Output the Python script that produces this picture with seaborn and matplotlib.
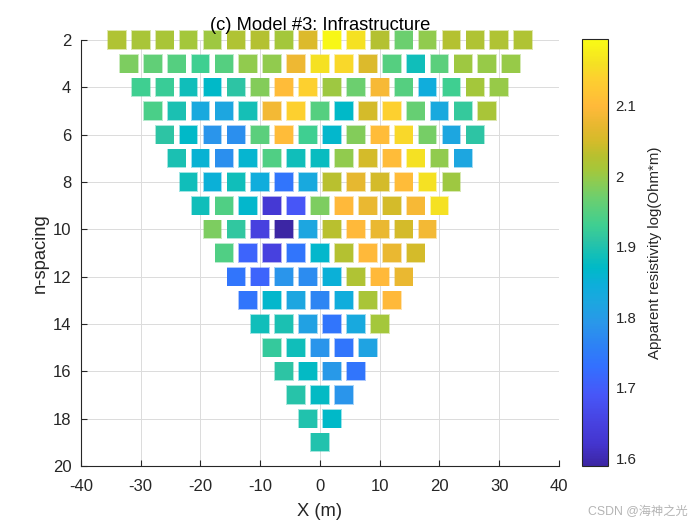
"""Pseudo-section de résistivité apparente, modèle #3"""
import numpy as np
import pandas as pd
import matplotlib
matplotlib.use("Agg")
import matplotlib.pyplot as plt
from matplotlib.cm import ScalarMappable
from matplotlib.colors import LinearSegmentedColormap, Normalize
import seaborn as sns

n_spacing = [2, 3, 4, 5, 6, 7, 8, 9, 10, 11, 12, 13, 14, 15, 16, 17, 18, 19]

# Valeurs, une liste par n-spacing (de gauche a droite)
n02 = [2.02, 2.015, 2.015, 2.01, 2.005, 2.02, 2.025, 2.01, 2.06, 2.19, 2.16, 2.025, 1.97, 1.995, 2.025, 2.02, 2.02, 2.02]
n03 = [1.98, 1.96, 1.95, 1.93, 1.95, 1.995, 1.995, 2.08, 2.16, 2.15, 2.06, 1.95, 1.885, 1.955, 2.005, 2.0, 2.0]
n04 = [1.93, 1.925, 1.885, 1.87, 1.91, 1.985, 2.105, 2.14, 2.005, 1.97, 2.09, 1.95, 1.84, 1.93, 2.01, 2.0]
n05 = [1.94, 1.895, 1.83, 1.82, 1.89, 2.085, 2.14, 1.95, 1.87, 2.05, 2.14, 1.965, 1.83, 1.92, 2.015]
n06 = [1.91, 1.87, 1.79, 1.78, 1.955, 2.105, 1.93, 1.865, 1.985, 2.105, 2.15, 1.975, 1.82, 1.91]
n07 = [1.895, 1.855, 1.78, 1.86, 1.945, 1.885, 1.88, 1.995, 2.05, 2.105, 2.16, 1.995, 1.82]
n08 = [1.885, 1.85, 1.885, 1.84, 1.74, 1.83, 2.03, 2.07, 2.05, 2.105, 2.16, 2.005]
n09 = [1.885, 1.945, 1.865, 1.63, 1.69, 1.98, 2.10, 2.075, 2.05, 2.09, 2.16]
n10 = [1.98, 1.915, 1.65, 1.59, 1.82, 2.03, 2.10, 2.075, 2.05, 2.085]
n11 = [1.945, 1.71, 1.65, 1.74, 1.865, 2.025, 2.10, 2.075, 2.05]
n12 = [1.74, 1.71, 1.79, 1.775, 1.85, 2.02, 2.10, 2.075]
n13 = [1.74, 1.865, 1.82, 1.765, 1.84, 2.015, 2.10]
n14 = [1.885, 1.895, 1.81, 1.74, 1.83, 2.01]
n15 = [1.92, 1.885, 1.79, 1.74, 1.815]
n16 = [1.91, 1.875, 1.795, 1.74]
n17 = [1.905, 1.875, 1.79]
n18 = [1.90, 1.87]
n19 = [1.90]
rows = [n02, n03, n04, n05, n06, n07, n08, n09, n10, n11, n12, n13, n14, n15, n16, n17, n18, n19]

x_ticks = [-40, -30, -20, -10, 0, 10, 20, 30, 40]
x_labels = ["-40", "-30", "-20", "-10", "0", "10", "20", "30", "40"]
y_ticks = [2, 4, 6, 8, 10, 12, 14, 16, 18, 20]
cbar_ticks = [1.6, 1.7, 1.8, 1.9, 2.0, 2.1]
cbar_labels = ["1.6", "1.7", "1.8", "1.9", "2", "2.1"]
vmin, vmax = 1.589, 2.195

# Colormap type parula, couleur relevee pour chaque valeur
cmap_values = [1.589, 1.62, 1.65, 1.69, 1.73, 1.76, 1.79, 1.82, 1.845, 1.87, 1.89,
               1.91, 1.93, 1.95, 1.97, 1.995, 2.01, 2.03, 2.05, 2.07, 2.10, 2.14, 2.16, 2.195]
cmap_colors = ["#3c26a4", "#4435cf", "#4742e0", "#4757f8", "#3370ff", "#2d82f5", "#2a96ea",
               "#1da6e0", "#0eaedb", "#00b9c8", "#14bfb7", "#2dc4a4", "#3ecf92", "#55cf80",
               "#6dcf6e", "#90cb4f", "#a5c73a", "#b8c02f", "#d4bb2a", "#e5b82f", "#ffb93a",
               "#fdd02f", "#f5e024", "#f9fb15"]
norm = Normalize(vmin, vmax)
parula = LinearSegmentedColormap.from_list(
    "parula", [(float(norm(v)), c) for v, c in zip(cmap_values, cmap_colors)])

records = []
for n, vals in zip(n_spacing, rows):
    # electrodes espacees de 4 m, centrees sur X = 0
    xs = (np.arange(len(vals)) - (len(vals) - 1) / 2) * 4
    for x, v in zip(xs, vals):
        records.append({"x": x, "n": n, "rho": v})
df = pd.DataFrame(records)

sns.set_theme(style="white")
plt.rcParams['font.family'] = ['Liberation Sans', 'Noto Sans CJK SC', 'DejaVu Sans']

fig = plt.figure(figsize=(7, 5.25), dpi=100)
ax = fig.add_axes([81 / 700, 1 - 466 / 525, 478 / 700, 426 / 525])

# bord pale + carre plein
for size, alpha in [(200, 0.4), (165, 1.0)]:
    sns.scatterplot(data=df, x="x", y="n", hue="rho", hue_norm=norm, palette=parula,
                    marker="s", s=size, alpha=alpha, linewidth=0, legend=False,
                    clip_on=False, zorder=3, ax=ax)

ax.set_xlim(-40, 40)
ax.set_ylim(20, 2)
ax.set_xticks(x_ticks)
ax.set_xticklabels(x_labels)
ax.set_yticks(y_ticks)
ax.grid(True, color="#dcdcdc", linewidth=0.72)
ax.set_axisbelow(True)
ax.spines["top"].set_visible(False)
ax.spines["right"].set_visible(False)
for side in ["left", "bottom"]:
    ax.spines[side].set_color("#262626")
    ax.spines[side].set_linewidth(0.8)
ax.tick_params(axis="x", direction="in", length=4, width=0.8, color="#262626",
               labelsize=12, labelcolor="#262626", pad=9.5, bottom=True)
ax.tick_params(axis="y", direction="in", length=4, width=0.8, color="#262626",
               labelsize=12, labelcolor="#262626", pad=7, left=True)
ax.set_xlabel("X (m)", fontsize=13.2, color="#262626", labelpad=6)
ax.set_ylabel("n-spacing", fontsize=13.2, color="#262626", labelpad=3)

fig.text(320 / 700, 1 - 25 / 525, "(c) Model #3: Infrastructure", fontsize=13.2,
         ha="center", va="center", color="black")

# Colorbar
cax = fig.add_axes([582 / 700, 1 - 466 / 525, 26 / 700, 427 / 525])
cbar = fig.colorbar(ScalarMappable(norm=norm, cmap=parula), cax=cax)
cbar.set_ticks(cbar_ticks)
cbar.set_ticklabels(cbar_labels)
cbar.ax.tick_params(direction="in", length=4, width=0.8, color="#262626",
                    labelsize=10.8, labelcolor="#262626", pad=5.5)
cbar.outline.set_edgecolor("#262626")
cbar.outline.set_linewidth(0.8)
cbar.set_label("Apparent resistivity log(Ohm*m)", fontsize=10.8, color="#262626", labelpad=8.5)

fig.text(688 / 700, 1 - 512 / 525, "CSDN @海神之光", fontsize=8.8, color="#b4b4b4",
         ha="right", va="center")

plt.savefig("out.png", dpi=100)
plt.close()
